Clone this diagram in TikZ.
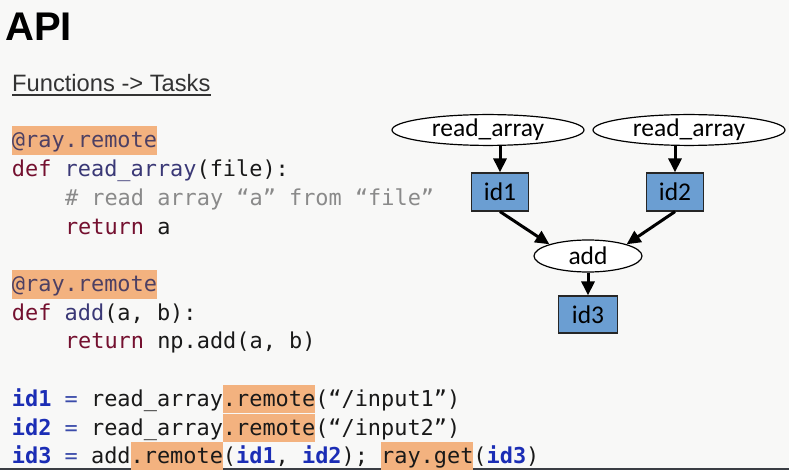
\documentclass[tikz,border=0pt]{standalone}
\usepackage{fontspec}
\setmainfont{Liberation Sans}
\newfontfamily\codefont{DejaVu Sans Mono}[WordSpace={1,0,0},PunctuationSpace=WordSpace]
\newfontfamily\calfont{Carlito}
\usetikzlibrary{shapes.geometric,arrows.meta}
\definecolor{bg}{HTML}{F8F8F7}
\definecolor{hl}{HTML}{F3B27F}
\definecolor{deco}{HTML}{4D4063}
\definecolor{kw}{HTML}{74102F}
\definecolor{fn}{HTML}{3A3876}
\definecolor{cmt}{HTML}{8A8A8A}
\definecolor{idc}{HTML}{1B2DB5}
\definecolor{eqc}{HTML}{3A4BAA}
\definecolor{boxfill}{HTML}{6B9ED2}
\definecolor{sub}{HTML}{333333}
\definecolor{strip}{HTML}{3A3D44}
\newcommand{\hlx}[1]{{\setlength{\fboxsep}{0pt}\colorbox{hl}{\vrule width 0pt height 21.5pt depth 7pt\relax #1}}}
\newcommand{\idx}[1]{{\color{idc}\bfseries #1}}
\tikzset{
  codeline/.style={anchor=base west, inner sep=0pt, outer sep=0pt, text=black!90,
    font=\codefont\fontsize{21.9}{28}\selectfont\frenchspacing},
  task/.style={ellipse, draw=black, line width=1.2pt, fill=white, inner sep=0pt,
    minimum height=30pt, font=\calfont\fontsize{25.5}{28}\selectfont},
  obj/.style={rectangle, draw=black!85, line width=1.2pt, fill=boxfill, inner sep=0pt,
    minimum width=57pt, minimum height=38pt, font=\calfont\fontsize{25.5}{28}\selectfont},
  arr/.style={line width=3pt, -{Triangle[length=14pt,width=13pt]}}
}
\begin{document}
\begin{tikzpicture}[x=1pt,y=-1pt]
\useasboundingbox (0,0) rectangle (789,470);
\fill[bg] (0,0) rectangle (789,470);
\fill[strip] (0,468) rectangle (789,470);
% title
\node[anchor=base west, inner sep=0pt, font=\bfseries\fontsize{40}{44}\selectfont] (title) at (5,41) {API};
\node[anchor=base west, inner sep=0pt, text=sub, font=\fontsize{23.7}{28}\selectfont] (sub) at (12,92) {Functions -> Tasks};
\draw[sub, line width=1.4pt] ([yshift=-3pt]sub.base west) -- ([yshift=-3pt]sub.base east);
% code
\node[codeline] (c1) at (12,148) {\hlx{\color{deco}@ray.remote}};
\node[codeline] (c2) at (12,176.7) {{\color{kw}def} {\color{fn}read\_array}(file):};
\node[codeline, text=cmt] (c3) at (65,205.4) {\# read array “a” from “file”};
\node[codeline] (c4) at (65,234.1) {{\color{kw}return} a};
\node[codeline] (c5) at (12,291.5) {\hlx{\color{deco}@ray.remote}};
\node[codeline] (c6) at (12,320.2) {{\color{kw}def} {\color{fn}add}(a, b):};
\node[codeline] (c7) at (65,348.9) {{\color{kw}return} np.add(a, b)};
\node[codeline] (c8) at (12,406.3) {\idx{id1} {\color{eqc}=} read\_array\hlx{.remote}(“/input1”)};
\node[codeline] (c9) at (12,435) {\idx{id2} {\color{eqc}=} read\_array\hlx{.remote}(“/input2”)};
\node[codeline] (c10) at (12,463.7) {\idx{id3} {\color{eqc}=} add\hlx{.remote}(\idx{id1}, \idx{id2}); \hlx{ray.get}(\idx{id3})};
% graph
\node[task, minimum width=192pt] (ra1) at (488,130) {read\_array};
\node[task, minimum width=192pt] (ra2) at (689,130) {read\_array};
\node[obj] (id1) at (500,192) {id1};
\node[obj] (id2) at (675,192) {id2};
\node[task, minimum width=108pt, minimum height=32pt] (add) at (588,256) {add};
\node[obj, minimum width=59pt, minimum height=37pt] (id3) at (588,314.5) {id3};
\draw[arr] (id1 |- ra1.south) -- (id1.north);
\draw[arr] (id2 |- ra2.south) -- (id2.north);
\draw[arr] (id1.south) -- (add.north west);
\draw[arr] (id2.south) -- (add.north east);
\draw[arr] (add.south) -- (id3.north);
\end{tikzpicture}
\end{document}
